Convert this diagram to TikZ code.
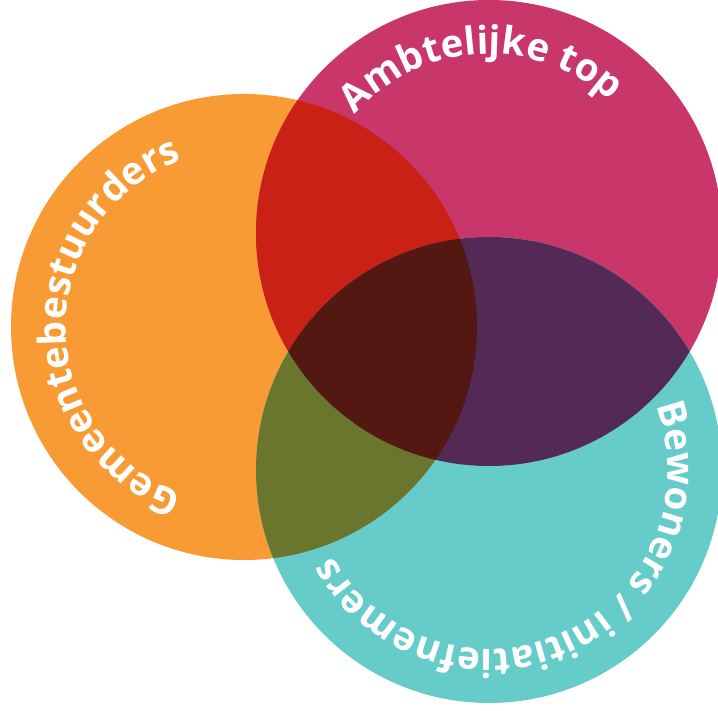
\documentclass[tikz,border=0pt]{standalone}
\usepackage{fontspec}
\newfontfamily\osb{Open Sans}
\usetikzlibrary{decorations.text}
\definecolor{orangeC}{HTML}{F99B35}
\definecolor{magC}{HTML}{C8366A}
\definecolor{tealC}{HTML}{66CCCA}
\definecolor{redC}{HTML}{C92115}
\definecolor{oliveC}{HTML}{6A762E}
\definecolor{purpC}{HTML}{532A55}
\definecolor{darkC}{HTML}{531812}
\tikzset{
  circtext/.style={decorate, decoration={text along path, text align=center,
    text={|\osb\bfseries\fontsize{38.5}{44}\selectfont\color{white}|#1}}}
}
\begin{document}
\begin{tikzpicture}[x=1pt,y=1pt]
\clip (0,0) rectangle (718,711);
\fill[white] (0,0) rectangle (718,711);
\coordinate (O) at (244,384);
\coordinate (M) at (489,478);
\coordinate (T) at (489,241);
\def\R{233}
\fill[orangeC] (O) circle[radius=\R];
\fill[magC] (M) circle[radius=\R];
\fill[tealC] (T) circle[radius=\R];
\begin{scope}
  \clip (O) circle[radius=\R];
  \fill[redC] (M) circle[radius=\R];
  \fill[oliveC] (T) circle[radius=\R];
\end{scope}
\begin{scope}
  \clip (M) circle[radius=\R];
  \fill[purpC] (T) circle[radius=\R];
\end{scope}
\begin{scope}
  \clip (O) circle[radius=\R];
  \clip (M) circle[radius=\R];
  \fill[darkC] (T) circle[radius=\R];
\end{scope}
% texts
\path[circtext={Ambtelijke top}] ([shift={(213:179)}]M) arc[start angle=213, end angle=-27, radius=179];
\path[circtext={Gemeentebestuurders}] ([shift={(300:178)}]O) arc[start angle=300, end angle=60, radius=178];
\path[circtext={Bewoners / initiatiefnemers}] ([shift={(55:179)}]T) arc[start angle=55, end angle=-185, radius=179];
\end{tikzpicture}
\end{document}
